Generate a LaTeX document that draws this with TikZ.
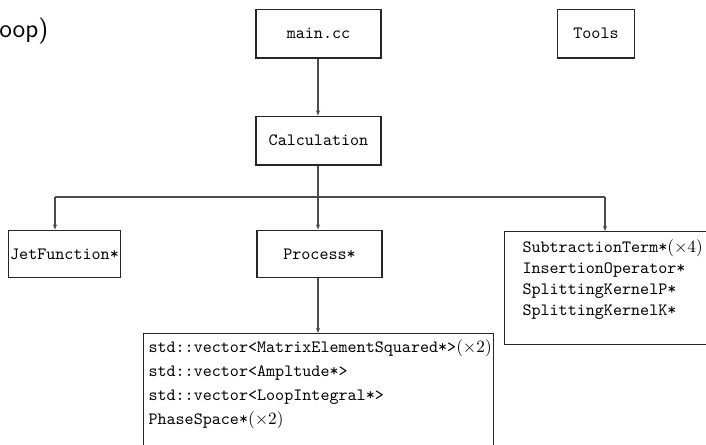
\documentclass[tikz,border=0pt]{standalone}
\usetikzlibrary{arrows.meta}
\tikzset{
  box/.style={draw=black!85, line width=0.6pt, font=\ttfamily\fontsize{10}{12}\selectfont, inner sep=0pt},
  conn/.style={draw=black!70, line width=0.6pt},
  arr/.style={conn, -{Stealth[length=3pt,width=2.4pt]}},
}
\begin{document}
\begin{tikzpicture}[x=0.58pt,y=-0.58pt]
\useasboundingbox (0,0) rectangle (706,444);
\clip (0,0) rectangle (706,444);
\node[anchor=base west, font=\sffamily\fontsize{15}{18}\selectfont, inner sep=0pt] (title) at (-1,37) {oop)};
\node[box, minimum width=72.5pt, minimum height=28.4pt] (main) at (318.5,33.5) {main.cc};
\node[box, minimum width=45.2pt, minimum height=28.4pt] (tools) at (596,33.5) {Tools};
\node[box, minimum width=72.5pt, minimum height=28.4pt] (calc) at (318.5,140.5) {Calculation};
\node[box, minimum width=65.5pt, minimum height=27.8pt] (jet) at (64.5,254) {JetFunction*};
\node[box, minimum width=72.5pt, minimum height=27.8pt] (proc) at (319.5,254) {Process*};
\node[box, anchor=north west, inner xsep=2.9pt, inner ysep=0pt] (vec) at (143,333)
  {\parbox[c][75pt][t]{197.2pt}{\setlength\baselineskip{13.9pt}\rule{0pt}{11.2pt}std::vector<MatrixElementSquared*>$(\times2)$\\
  std::vector<Ampltude*>\\
  std::vector<LoopIntegral*>\\
  PhaseSpace*$(\times2)$}};
\node[box, anchor=north west, inner xsep=10.44pt, inner ysep=0pt] (terms) at (504,231)
  {\parbox[c][65.5pt][t]{110pt}{\setlength\baselineskip{12.1pt}\rule{0pt}{12.4pt}SubtractionTerm*$(\times4)$\\
  InsertionOperator*\\
  SplittingKernelP*\\
  SplittingKernelK*}};
\coordinate (bl) at (55,197);
\coordinate (br) at (605,197);
\coordinate (bm) at (318,197);
\draw[arr] (main.south -| bm) -- (calc.north -| bm);
\draw[conn] (calc.south -| bm) -- (bm);
\draw[conn] (bl) -- (br);
\draw[arr] (bl) -- (bl |- jet.north);
\draw[arr] (bm) -- (bm |- proc.north);
\draw[arr] (br) -- (br |- terms.north);
\draw[arr] (proc.south -| bm) -- (bm |- vec.north);
\end{tikzpicture}
\end{document}
